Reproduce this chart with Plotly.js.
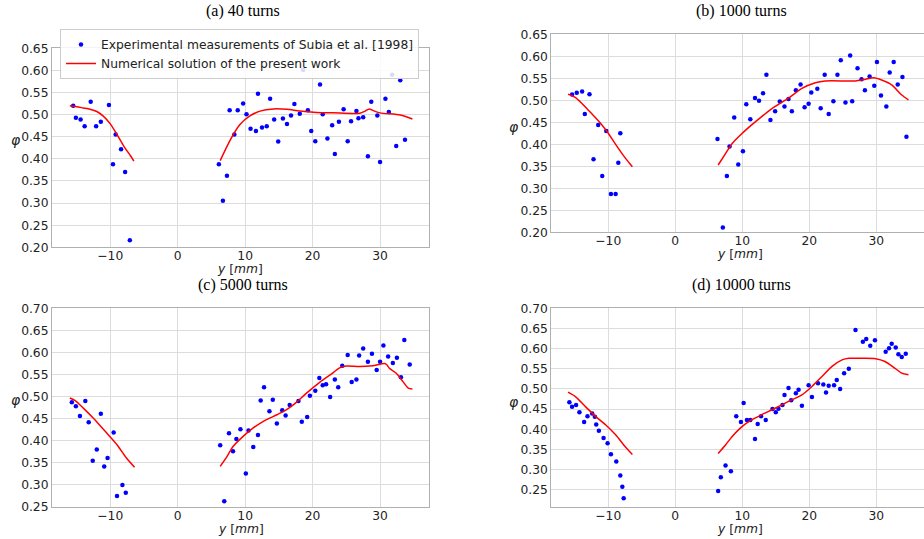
<!DOCTYPE html>
<html>
<head>
<meta charset="utf-8">
<script src="https://cdn.plot.ly/plotly-3.0.1.min.js"></script>
<style>html,body{margin:0;padding:0;background:#fff;}#chart{width:924px;height:539px;}</style>
</head>
<body>
<div id="chart"></div>
<script>
// ---------- data ----------
const panelTitles = ["(a) 40 turns", "(b) 1000 turns", "(c) 5000 turns", "(d) 10000 turns"];
const xTickVals = [-10, 0, 10, 20, 30];

// (a) 40 turns
const aExpX = [-15.5,-15.1,-14.4,-13.8,-12.9,-12.1,-11.4,-10.2,-9.6,-9.2,-8.4,-7.8,-7.1,
  6.1,6.7,7.3,7.7,8.4,8.9,9.7,10.2,10.8,11.6,11.9,12.5,13.2,13.7,14.3,14.9,15.6,16.2,16.8,17.3,18.1,18.6,
  19.3,19.8,20.4,21.1,21.5,22.2,22.9,23.3,23.9,24.6,25.2,25.7,26.5,26.8,27.5,28.2,28.7,29.6,30.0,30.8,31.3,31.8,32.4,33.0,33.7];
const aExpY = [0.520,0.493,0.489,0.474,0.529,0.474,0.484,0.522,0.388,0.455,0.422,0.370,0.216,
  0.388,0.305,0.362,0.510,0.455,0.510,0.525,0.501,0.468,0.463,0.547,0.471,0.474,0.536,0.489,0.439,0.491,0.479,0.498,0.524,0.502,0.601,
  0.510,0.463,0.440,0.568,0.501,0.446,0.476,0.411,0.484,0.512,0.440,0.485,0.508,0.492,0.494,0.406,0.529,0.498,0.393,0.536,0.506,0.590,0.429,0.578,0.443];
const aNumLX = [-16,-15,-14,-13,-12,-11,-10,-9,-8,-7,-6.5];
const aNumLY = [0.520,0.518,0.515,0.512,0.507,0.496,0.479,0.455,0.429,0.407,0.395];
const aNumRX = [6.3,7.8,9.2,10.7,12.2,14.2,16.2,18.1,20.6,23.1,27.0,27.8,28.4,29.0,30.0,33.0,34.8];
const aNumRY = [0.396,0.443,0.477,0.497,0.508,0.513,0.512,0.508,0.505,0.504,0.503,0.508,0.513,0.509,0.504,0.499,0.490];

// (b) 1000 turns
const bExpX = [-15.4,-14.7,-13.9,-13.5,-12.8,-12.2,-11.5,-10.9,-10.3,-9.6,-8.9,-8.5,-8.2,
  6.3,7.1,7.7,8.1,8.8,9.4,10.1,10.6,11.2,11.9,12.5,13.1,13.6,14.2,14.9,15.6,16.3,16.9,17.4,18.0,18.7,19.3,19.9,20.3,
  21.2,21.7,22.3,22.9,23.6,24.2,24.7,25.4,26.1,26.4,27.2,27.8,28.3,29.0,29.7,30.1,30.7,31.5,32.0,32.6,33.2,33.9,34.5];
const bExpY = [0.513,0.517,0.520,0.469,0.514,0.366,0.444,0.328,0.430,0.287,0.287,0.358,0.425,
  0.412,0.211,0.328,0.395,0.461,0.354,0.384,0.491,0.457,0.505,0.499,0.516,0.558,0.455,0.475,0.497,0.486,0.503,0.475,0.523,0.536,0.484,0.492,0.518,
  0.526,0.482,0.558,0.469,0.498,0.558,0.591,0.495,0.602,0.498,0.573,0.548,0.523,0.554,0.533,0.587,0.511,0.486,0.563,0.587,0.536,0.553,0.417];
const bNumLX = [-16,-15,-14,-13,-12,-11,-10,-9,-8,-7,-6.4];
const bNumLY = [0.514,0.507,0.494,0.478,0.462,0.445,0.425,0.402,0.380,0.360,0.349];
const bNumRX = [6.4,7.5,8.5,10.0,11.4,12.9,14.9,16.9,18.9,20.9,22.4,25.4,26.9,28.4,29.6,30.8,32.3,33.8,34.8];
const bNumRY = [0.353,0.379,0.402,0.425,0.444,0.463,0.486,0.505,0.527,0.540,0.544,0.544,0.544,0.548,0.551,0.546,0.535,0.512,0.501];

// (c) 5000 turns
const cExpX = [-15.7,-15.1,-14.5,-13.7,-13.2,-12.6,-12.0,-11.4,-10.9,-10.4,-9.5,-9.0,-8.2,-7.7,
  6.3,6.9,7.6,8.2,8.7,9.3,10.1,10.5,11.2,11.9,12.3,12.8,13.6,14.1,14.7,15.5,16.0,16.6,17.9,18.4,19.2,19.6,20.4,
  21.0,21.5,22.0,22.6,23.3,23.8,24.4,25.2,25.8,26.5,26.9,27.5,28.2,28.8,29.5,30.0,30.5,31.2,31.9,32.5,33.1,33.6,34.4];
const cExpY = [0.487,0.478,0.456,0.490,0.442,0.355,0.380,0.461,0.342,0.361,0.419,0.275,0.300,0.282,
  0.390,0.263,0.417,0.376,0.404,0.426,0.326,0.423,0.386,0.413,0.491,0.521,0.467,0.493,0.439,0.469,0.457,0.481,0.490,0.443,0.454,0.502,0.513,
  0.542,0.526,0.528,0.499,0.539,0.521,0.570,0.594,0.533,0.539,0.593,0.609,0.579,0.597,0.560,0.579,0.616,0.591,0.576,0.588,0.544,0.628,0.573];
const cNumLX = [-16.0,-15.2,-14.0,-12.5,-10.5,-9.0,-7.6,-6.4];
const cNumLY = [0.497,0.491,0.474,0.451,0.417,0.391,0.361,0.340];
const cNumRX = [6.3,7.3,8.2,9.7,11.2,12.7,14.7,16.1,17.6,19.1,21.1,22.6,24.0,24.8,27.0,28.9,30.7,31.0,31.4,32.4,33.4,34.2,34.8];
const cNumRY = [0.342,0.364,0.387,0.410,0.429,0.444,0.459,0.470,0.487,0.508,0.533,0.549,0.565,0.569,0.568,0.570,0.575,0.572,0.564,0.553,0.534,0.519,0.517];

// (d) 10000 turns
const dExpX = [-15.8,-15.4,-14.8,-14.3,-13.6,-13.1,-12.4,-12.0,-11.8,-11.4,-10.7,-10.1,-9.6,-8.8,-8.2,-7.9,-7.7,
  6.4,6.8,7.5,8.3,9.1,9.8,10.2,10.7,11.2,11.9,12.3,12.8,13.5,14.5,15.0,15.4,16.0,16.3,16.9,17.3,18.0,18.4,18.9,19.9,
  20.4,21.3,22.1,22.5,22.9,23.7,24.1,24.6,25.2,25.9,26.9,28.0,28.5,29.1,29.8,31.4,31.9,32.3,32.9,33.3,33.8,34.4];
const dExpY = [0.467,0.456,0.460,0.442,0.418,0.432,0.439,0.431,0.412,0.396,0.378,0.365,0.338,0.320,0.285,0.257,0.229,
  0.247,0.281,0.310,0.296,0.432,0.418,0.465,0.423,0.423,0.376,0.413,0.432,0.423,0.450,0.442,0.451,0.460,0.485,0.502,0.472,0.489,0.498,0.458,0.509,
  0.480,0.514,0.511,0.491,0.508,0.509,0.522,0.500,0.539,0.550,0.646,0.617,0.624,0.607,0.621,0.592,0.601,0.612,0.603,0.586,0.579,0.587];
const dNumLX = [-16.0,-14.9,-13.4,-11.9,-10.4,-8.9,-7.5,-6.4];
const dNumLY = [0.492,0.481,0.456,0.432,0.411,0.386,0.357,0.337];
const dNumRX = [6.4,7.5,8.5,10.0,11.4,12.9,14.9,16.9,18.9,20.4,21.9,23.4,24.9,25.9,27.9,29.9,31.3,32.8,33.8,34.8];
const dNumRY = [0.340,0.361,0.382,0.407,0.423,0.436,0.452,0.469,0.485,0.506,0.531,0.556,0.572,0.576,0.576,0.575,0.568,0.551,0.539,0.535];

const yTicksAB = [0.20,0.25,0.30,0.35,0.40,0.45,0.50,0.55,0.60,0.65];
const yTicksCD = [0.25,0.30,0.35,0.40,0.45,0.50,0.55,0.60,0.65,0.70];

// ---------- build ----------
const panels = [
  {ex: aExpX, ey: aExpY, lx: aNumLX, ly: aNumLY, rx: aNumRX, ry: aNumRY},
  {ex: bExpX, ey: bExpY, lx: bNumLX, ly: bNumLY, rx: bNumRX, ry: bNumRY},
  {ex: cExpX, ey: cExpY, lx: cNumLX, ly: cNumLY, rx: cNumRX, ry: cNumRY},
  {ex: dExpX, ey: dExpY, lx: dNumLX, ly: dNumLY, rx: dNumRX, ry: dNumRY}
];
const W = 924, H = 539;
const boxes = [ // left, right, top, bottom in px
  [52, 429, 48.3, 247.3],
  [551.3, 924, 34.3, 232.3],
  [52, 429, 308.3, 507],
  [551.3, 924, 308.3, 507]
];
const xRanges = [[-18.64, 37.26], [-18.5, 37.12], [-18.64, 37.26], [-18.5, 37.12]];
const yRanges = [[0.20, 0.65], [0.20, 0.65], [0.25, 0.70], [0.207, 0.70]];
const yTicks = [yTicksAB, yTicksAB, yTicksCD, yTicksCD];

const traces = [];
const layout = {
  width: W, height: H, autosize: false,
  margin: {l: 0, r: 0, t: 0, b: 0},
  paper_bgcolor: '#ffffff', plot_bgcolor: '#ffffff',
  font: {family: 'DejaVu Sans', size: 12.3, color: '#222222'},
  showlegend: true,
  legend: {
    x: 60 / W, y: 1 - 29 / H, xanchor: 'left', yanchor: 'top',
    bgcolor: 'rgba(255,255,255,0.85)', bordercolor: '#cccccc', borderwidth: 1,
    font: {family: 'DejaVu Sans', size: 12.3, color: '#222222'},
    tracegroupgap: 0, itemwidth: 30
  },
  annotations: []
};

const titlePos = [[243, 11], [741, 11], [243, 285], [741, 285]];
const xLabPos = [[240, 269], [740, 254], [241, 529], [740, 529]];
const phiPos = [[16, 140], [514, 127], [16, 400], [514, 402]];

panels.forEach((p, i) => {
  const n = i + 1;
  const xa = 'x' + (n === 1 ? '' : n), ya = 'y' + (n === 1 ? '' : n);
  traces.push({
    x: p.ex, y: p.ey, xaxis: xa, yaxis: ya, type: 'scatter', mode: 'markers',
    marker: {color: '#0000ff', size: 4.5},
    name: 'Experimental measurements of Subia et al. [1998]', showlegend: i === 0
  });
  traces.push({
    x: p.lx.concat([null], p.rx), y: p.ly.concat([null], p.ry), xaxis: xa, yaxis: ya,
    type: 'scatter', mode: 'lines', connectgaps: false,
    line: {color: '#ff0000', width: 1.5, shape: 'spline', smoothing: 0.7},
    name: 'Numerical solution of the present work', showlegend: i === 0
  });
  const b = boxes[i];
  const right = (i === 1 || i === 3);
  layout['xaxis' + (n === 1 ? '' : n)] = {
    domain: [b[0] / W, Math.min(1, b[1] / W)], anchor: ya, range: xRanges[i],
    tickvals: xTickVals, ticks: '', ticklabelstandoff: -3,
    showline: true, mirror: true, linecolor: '#b0b0b0', linewidth: 1,
    showgrid: true, gridcolor: '#dcdcdc', gridwidth: 1, zeroline: false,
    tickfont: {family: 'DejaVu Sans', size: 12.3, color: '#222222'}
  };
  layout['yaxis' + (n === 1 ? '' : n)] = {
    domain: [1 - b[3] / H, 1 - b[2] / H], anchor: xa, range: yRanges[i],
    tickvals: yTicks[i], tickformat: '.2f', ticks: '', showline: true, mirror: !right,
    linecolor: '#b0b0b0', linewidth: 1,
    showgrid: true, gridcolor: '#dcdcdc', gridwidth: 1, zeroline: false,
    tickfont: {family: 'DejaVu Sans', size: 12.3, color: '#222222'}
  };
  layout.annotations.push({
    text: panelTitles[i], xref: 'paper', yref: 'paper',
    x: titlePos[i][0] / W, y: 1 - titlePos[i][1] / H, xanchor: 'center', yanchor: 'middle',
    showarrow: false, font: {family: 'Liberation Serif', size: 16, color: '#000000'}
  });
  layout.annotations.push({
    text: '<i>y</i> [<i>mm</i>]', xref: 'paper', yref: 'paper',
    x: xLabPos[i][0] / W, y: 1 - xLabPos[i][1] / H, xanchor: 'center', yanchor: 'middle',
    showarrow: false, font: {family: 'DejaVu Sans', size: 12.3, color: '#222222'}
  });
  layout.annotations.push({
    text: '<i>φ</i>', xref: 'paper', yref: 'paper',
    x: phiPos[i][0] / W, y: 1 - phiPos[i][1] / H, xanchor: 'center', yanchor: 'middle',
    showarrow: false, font: {family: 'DejaVu Sans', size: 14, color: '#222222'}
  });
});

Plotly.newPlot('chart', traces, layout, {displayModeBar: false, staticPlot: true});
</script>
</body>
</html>
